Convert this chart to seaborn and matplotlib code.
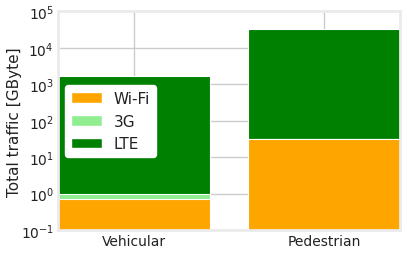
import numpy as np
import pandas as pd
import seaborn as sns
import matplotlib
matplotlib.use("Agg")
import matplotlib.pyplot as plt
from matplotlib.patches import Patch

# Traffic per technology (GByte)
scenarios = ["Vehicular", "Pedestrian"]
wifi = [0.69, 31.0]
g3 = [0.28, 0.0]
lte = [1730.0, 32500.0]
tech_labels = ["Wi-Fi", "3G", "LTE"]
tech_colors = ["orange", "lightgreen", "green"]

sns.set_theme(style="whitegrid")
plt.rcParams["font.family"] = ["DejaVu Sans"]

# cumulative tops for stacking
wifi_top = np.array(wifi)
g3_top = wifi_top + np.array(g3)
lte_top = g3_top + np.array(lte)

df = pd.DataFrame({"scenario": scenarios, "wifi": wifi_top, "g3": g3_top, "lte": lte_top})

fig = plt.figure(figsize=(4.07, 2.55), dpi=100)
ax = fig.add_axes([0.1425, 0.094, 0.84, 0.857])

# draw tallest first so the smaller ones sit on top
for col, color in zip(["lte", "g3", "wifi"], tech_colors[::-1]):
    sns.barplot(data=df, x="scenario", y=col, color=color, saturation=1,
                width=0.8, linewidth=0.8, edgecolor="white", ax=ax)

ax.set_yscale("log")
ax.set_ylim(0.1, 1e5)
ax.set_xlim(-0.4, 1.4)
ax.set_xlabel("")
ax.set_ylabel("Total traffic [GByte]", fontsize=11, color="#222222", labelpad=-1)
ax.tick_params(axis="both", labelsize=10, length=0, pad=3, labelcolor="#222222")
ax.yaxis.set_minor_locator(matplotlib.ticker.NullLocator())
ax.set_yticks([10.0 ** k for k in range(-1, 6)])
ax.grid(True, color="#cccccc", linewidth=1)
ax.set_axisbelow(True)
for s in ax.spines.values():
    s.set_color("#ebebeb")
    s.set_linewidth(2)

handles = [Patch(facecolor=c, edgecolor="white", label=l) for l, c in zip(tech_labels, tech_colors)]
leg = ax.legend(handles=handles, loc="upper left", bbox_to_anchor=(0.02, 0.664),
                borderaxespad=0, fontsize=11, frameon=True, fancybox=True,
                framealpha=1, edgecolor="white", facecolor="white")
for t in leg.get_texts():
    t.set_color("#222222")

fig.savefig("out.png", dpi=100)
